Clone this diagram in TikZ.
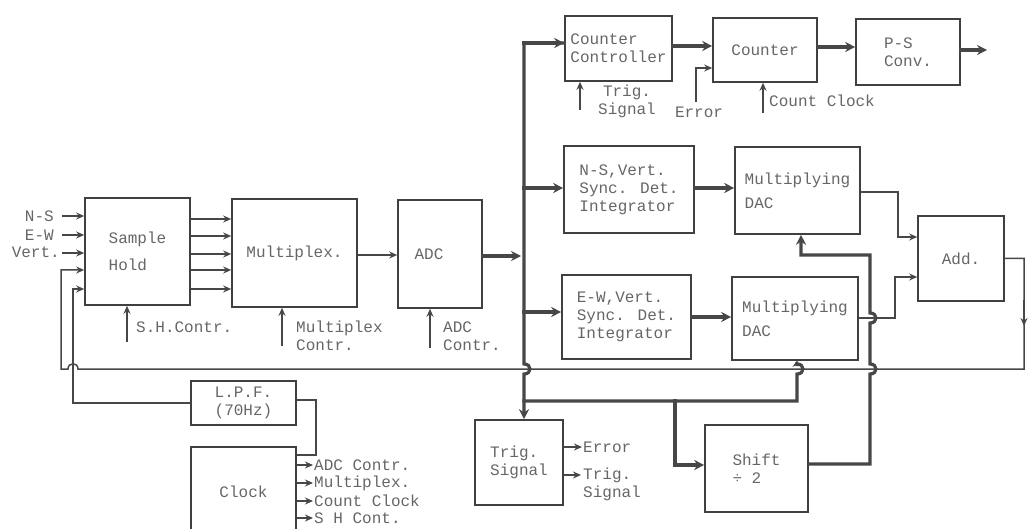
\documentclass[tikz,border=0pt]{standalone}
\usepackage{fontspec}
\setmainfont{Liberation Mono}
\usetikzlibrary{arrows.meta}
\begin{document}
\begin{tikzpicture}[x=1pt,y=-1pt,
  every node/.style={font=\fontsize{16}{18}\selectfont, text=black!60, inner sep=0pt},
  box/.style={draw=black!75, line width=1.6pt, align=left},
  ln/.style={draw=black!72, line width=1.5pt},
  arr/.style={ln, -{Stealth[length=8pt,width=7pt]}},
  bus/.style={draw=black!72, line width=3.2pt, line cap=rect, line join=miter},
  busarr/.style={bus, -{Stealth[length=10pt,width=10pt]}},
  busarrs/.style={bus, -{Stealth[length=6pt,width=9pt]}}
]
\useasboundingbox (0,0) rectangle (1033,529);

% boxes
\node[box, minimum width=105, minimum height=107] (sh) at (137.5,251.5) {Sample\\[9pt]Hold};
\node[box, minimum width=125, minimum height=108] (mux) at (294.5,253) {Multiplex.};
\node[box, minimum width=84, minimum height=108] (adc) at (440,254) {ADC\hspace*{22pt}};
\node[box, minimum width=107, minimum height=65] (cc) at (618.5,48.5) {Counter\\Controller};
\node[box, minimum width=104, minimum height=64] (cnt) at (765,50) {Counter};
\node[box, minimum width=104, minimum height=66] (ps) at (908,52) {P-S\\Conv.};
\node[box, minimum width=130, minimum height=87] (nsi) at (629,189.5) {N-S,Vert.\\Sync. Det.\\Integrator};
\node[box, minimum width=129, minimum height=84] (ewi) at (626.5,317) {E-W,Vert.\\Sync. Det.\\Integrator};
\node[box, minimum width=125, minimum height=87] (md1) at (797.5,190.5) {Multiplying\\[6pt]DAC};
\node[box, minimum width=126, minimum height=83] (md2) at (795,318.5) {Multiplying\\[6pt]DAC};
\node[box, minimum width=86, minimum height=85] (add) at (961,258.5) {Add.};
\node[box, minimum width=105, minimum height=44, align=center] (lpf) at (243.5,403) {L.P.F.\\(70Hz)};
\node[box, minimum width=105, minimum height=90] (clk) at (243.5,492) {Clock};
\node[box, minimum width=88, minimum height=85] (trig) at (519,462.5) {Trig.\\Signal};
\node[box, minimum width=103, minimum height=87] (shift) at (756.5,468.5) {Shift\\÷ 2};

% inputs
\node[anchor=east] (ns) at (54,216) {N-S};
\node[anchor=east] (ew) at (54,235) {E-W};
\node[anchor=east] (vt) at (60,252) {Vert.};
\draw[arr] (62,216) -- (ns -| sh.west);
\draw[arr] (62,235) -- (ew -| sh.west);
\draw[arr] (62,253) -- (sh.west |- 0,253);

% sample hold -> multiplexer -> ADC
\foreach \yy in {219,236,254,270,289} \draw[arr] (sh.east |- 0,\yy) -- (mux.west |- 0,\yy);
\draw[arr] (mux.east |- 0,255) -- (adc.west |- 0,255);

% control inputs
\coordinate (shc) at (127,342);
\draw[arr] (shc) -- (shc |- sh.south);
\node[anchor=west] (shcl) at (136,327) {S.H.Contr.};
\coordinate (muxc) at (282,346);
\draw[arr] (muxc) -- (muxc |- mux.south);
\node[anchor=west, align=left] (muxcl) at (296,336) {Multiplex\\Contr.};
\coordinate (adcc) at (430,348);
\draw[arr] (adcc) -- (adcc |- adc.south);
\node[anchor=west, align=left] (adccl) at (443,336) {ADC\\Contr.};

% data bus
\coordinate (bt) at (524,43);
\coordinate (bb) at (524,401);
\draw[busarr] (adc.east |- 0,256) -- (521,256);
\draw[busarr] (bt -| cc.west) -- (bt) -- (524,364) .. controls (532,364) and (532,374) .. (524,374) -- (bt |- trig.north);
\draw[busarr] (bt) -- (bt -| cc.west);
\draw[busarr] (bt |- 0,188) -- (nsi.west |- 0,188);
\draw[busarr] (bt |- 0,312) -- (ewi.west |- 0,312);
\draw[busarr] (nsi.east |- 0,188) -- (md1.west |- 0,188);
\draw[busarr] (ewi.east |- 0,317) -- (md2.west |- 0,317);
\draw[busarrs] (bb) -- (797,401) -- (797,374) .. controls (805,374) and (805,364) .. (797,364) -- (md2.south -| 797,0);
\draw[busarr] (675,401) -- (675,465) -- (shift.west |- 0,465);
\draw[busarr] (shift.east |- 0,464) -- (870,464) -- (870,374) .. controls (878,374) and (878,364) .. (870,364)
   -- (870,323) .. controls (878,323) and (878,313) .. (870,313) -- (870,255) -- (801,255) -- (md1.south -| 801,0);

% multiplying DACs -> adder
\draw[arr] (md1.east |- 0,192) -- (898,192) -- (898,237) -- (add.west |- 0,237);
\draw[arr] (md2.east |- 0,318) -- (895,318) -- (895,277) -- (add.west |- 0,277);

% adder feedback to sample hold
\draw[arr] (add.east) -- (1024,258.5) -- (1024,369) -- (78,369) .. controls (78,362) and (68,362) .. (68,369)
   -- (61,369) -- (61,270) -- (sh.west |- 0,270);
\draw[arr] (1024,300) -- (1024,326);

% LPF and clock
\draw[arr] (lpf.west) -- (73,403) -- (73,289) -- (sh.west |- 0,289);
\draw[ln] (clk.east |- 0,455) -- (316,455) -- (316,400) -- (lpf.east |- 0,400);
\foreach \yy/\lab in {465/ADC Contr., 483/Multiplex., 501/Count Clock, 518/S H Cont.}{
  \node[anchor=west] (co\yy) at (314,\yy) {\lab};
  \draw[arr] (clk.east |- 0,\yy) -- ([xshift=-1pt]co\yy.west);
}

% counter chain
\draw[busarr] (cc.east |- 0,46) -- (cnt.west |- 0,46);
\draw[busarr] (cnt.east |- 0,47) -- (ps.west |- 0,47);
\coordinate (psout) at (987,50);
\draw[busarr] (ps.east |- psout) -- (psout);
\coordinate (trg0) at (580,110);
\draw[arr] (trg0) -- (trg0 |- cc.south);
\node[align=center] (trgl) at (627,101) {Trig.\\Signal};
\coordinate (err0) at (696,102);
\draw[arr] (err0) -- (696,68) -- (cnt.west |- 0,68);
\node (errl) at (699,112) {Error};
\coordinate (ccin) at (763,113);
\draw[arr] (ccin) -- (ccin |- cnt.south);
\node[anchor=west] (ccl) at (769,101) {Count Clock};

% trig signal outputs
\node[anchor=west] (te) at (583,447) {Error};
\node[anchor=north west, align=left] (tt) at (583,468) {Trig.\\Signal};
\draw[arr] (trig.east |- te) -- ([xshift=-1pt]te.west);
\draw[arr] (trig.east |- 0,475) -- (581,475);
\end{tikzpicture}
\end{document}
